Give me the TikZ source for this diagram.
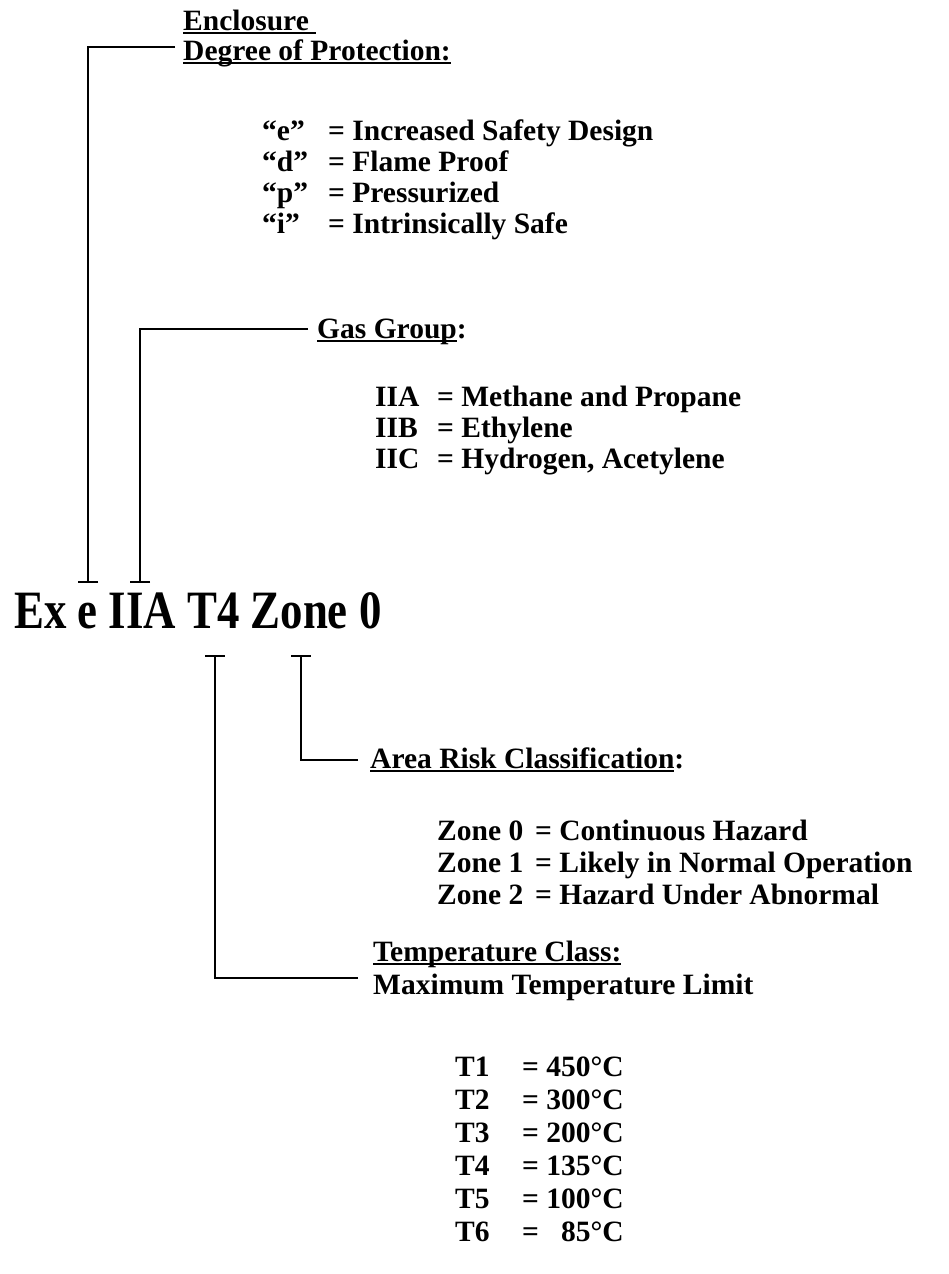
\documentclass[tikz,border=0pt]{standalone}
\usepackage{fontspec}
\setmainfont{Liberation Serif}
\newfontfamily\titlefont{Liberation Serif}[FakeStretch=0.83]
\usetikzlibrary{arrows.meta}

\newcommand{\undl}[1]{\setbox0\hbox{#1}\rlap{\rule[-4pt]{\wd0}{1.8pt}}\box0}

\tikzset{
    txt/.style={font={\bfseries\fontsize{29.5}{32}\selectfont}, inner sep=0pt, anchor=base west},
    title/.style={txt, font={\titlefont\bfseries\fontsize{54}{60}\selectfont}},
    lead/.style={line width=2.4pt},
    teeend/.style={lead, -{Bar[width=20pt, line width=2.4pt]}},
}

\begin{document}
\begin{tikzpicture}[x=1pt, y=-1pt]
            \useasboundingbox (0,0) rectangle (949,1274);

            % marking
            \node[title] (mark) at (14,628) {Ex e IIA T4 Zone 0};
            \coordinate (tEx) at (88,583);
            \coordinate (tIIA) at (140,583);
            \coordinate (tT) at (215,655);
            \coordinate (tZone) at (301,655);

            % enclosure
            \node[txt] (encl) at (183,30) {\undl{Enclosure\ }};
            \node[txt] (prot) at (183,60) {\undl{Degree of Protection:}};
            \foreach \k/\v [count=\i] in {“e”/Increased Safety Design, “d”/Flame Proof,
                    “p”/Pressurized, “i”/Intrinsically Safe}
            {
                \node[txt] (prot\i) at (262,109+31*\i) {\k};
                \node[txt] (protv\i) at (328,109+31*\i) {= \v};
            }
            \draw[teeend] ([xshift=-8pt, yshift=13pt]prot.base west) -| (tEx);

            % gas group
            \node[txt] (gas) at (317,338) {\undl{Gas Group}:};
            \foreach \k/\v [count=\i] in {IIA/Methane and Propane, IIB/Ethylene,
                    IIC/{Hydrogen, Acetylene}}
            {
                \node[txt] (gas\i) at (375,375+31*\i) {\k};
                \node[txt] (gasv\i) at (437,375+31*\i) {= \v};
            }
            \draw[teeend] ([xshift=-9pt, yshift=9pt]gas.base west) -| (tIIA);

            % area risk
            \node[txt] (area) at (370,768) {\undl{Area Risk Classification}:};
            \foreach \k/\v [count=\i] in {Zone 0/Continuous Hazard, Zone 1/Likely in Normal Operation,
                    Zone 2/Hazard Under Abnormal}
            {
                \node[txt] (zone\i) at (437,808+32*\i) {\k};
                \node[txt] (zonev\i) at (535,808+32*\i) {= \v};
            }
            \draw[teeend] ([xshift=-12pt, yshift=8pt]area.base west) -| (tZone);

            % temperature class
            \node[txt] (temp) at (373,961) {\undl{Temperature Class:}};
            \node[txt] (tmax) at (373,994) {Maximum Temperature Limit};
            \foreach \k/\v [count=\i] in {T1/450, T2/300, T3/200, T4/135, T5/100,
                    T6/\hphantom{0}85}
            {
                \node[txt] (tc\i) at (455,1043+33*\i) {\k};
                \node[txt] (tcv\i) at (522,1043+33*\i) {= \v\textdegree C};
            }
            \draw[teeend] ([xshift=-15pt, yshift=-17pt]temp.base west) -| (tT);
        \end{tikzpicture}
\end{document}
